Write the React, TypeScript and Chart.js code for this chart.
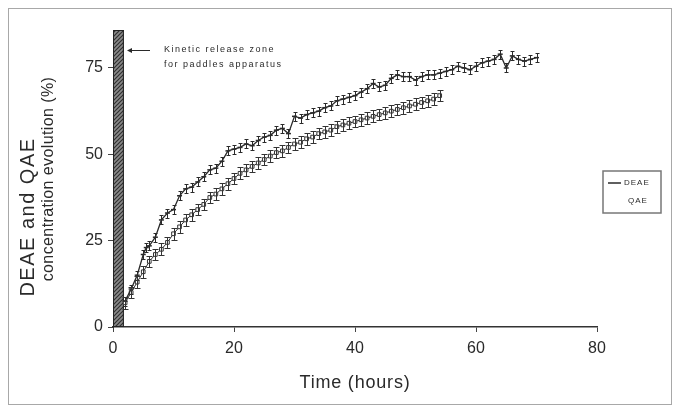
import { useEffect, useRef } from "react";
import { Chart, registerables } from "chart.js";

Chart.register(...registerables);

// ---- data ----
const DEAE_TIME = [2, 3, 4, 5, 5.5, 6, 7, 8, 9, 10, 11, 12, 13, 14, 15, 16, 17, 18, 19, 20, 21, 22, 23, 24, 25, 26, 27, 28, 29, 30, 31, 32, 33, 34, 35, 36, 37, 38, 39, 40, 41, 42, 43, 44, 45, 46, 47, 48, 49, 50, 51, 52, 53, 54, 55, 56, 57, 58, 59, 60, 61, 62, 63, 64, 65, 66, 67, 68, 69, 70];
const DEAE_VALUE = [7.5, 11, 15, 21, 23, 23.5, 26, 31, 33, 34, 38, 40, 40.5, 42, 43.5, 45.5, 46, 48, 51, 51.5, 52, 53, 52.5, 54, 55, 55.5, 57, 57.5, 56, 61, 60.5, 61.5, 62, 62.5, 63.5, 64, 65.5, 66, 66.5, 67, 68, 69, 70.5, 69.5, 70, 72, 73, 72.5, 72.5, 71.5, 72.5, 73, 73, 73.5, 74, 74.5, 75.5, 75, 74.5, 75.5, 76.5, 77, 77.5, 79, 75, 78.5, 77.5, 77, 77.5, 78];
const QAE_TIME = [2, 3, 4, 5, 6, 7, 8, 9, 10, 11, 12, 13, 14, 15, 16, 17, 18, 19, 20, 21, 22, 23, 24, 25, 26, 27, 28, 29, 30, 31, 32, 33, 34, 35, 36, 37, 38, 39, 40, 41, 42, 43, 44, 45, 46, 47, 48, 49, 50, 51, 52, 53, 54];
const QAE_VALUE = [7, 10, 13, 16, 19, 21, 22.5, 24.5, 27, 29, 31, 32.5, 34, 35.5, 37.5, 38.5, 40, 41.5, 43, 44.5, 45.5, 46.5, 47.5, 48.5, 49.5, 50.5, 51, 52, 53, 53.5, 54.5, 55, 56, 56.5, 57, 58, 58.5, 59, 59.5, 60, 60.5, 61, 61.5, 62, 62.5, 63, 63.5, 64, 64.5, 65, 65.5, 66, 67];
const DEAE_ERR = 1.3;
const QAE_ERR = 1.7;
const X_TICKS = [0, 20, 40, 60, 80];
const Y_TICKS = [0, 25, 50, 75];
const X_RANGE = [0, 80];
const Y_RANGE = [0, 86];
const ZONE_END = 1.8; // hours, kinetic release zone
const ZONE_TOP = 86;
const X_TITLE = "Time (hours)";
const Y_TITLE = ["DEAE and QAE", "concentration evolution (%)"];
const NOTE = ["Kinetic release zone", "for paddles apparatus"];
const SERIES_NAMES = ["DEAE", "QAE"];

const W = 662;
const H = 395;
const FONT = "'Liberation Sans', Arial, sans-serif";
const INK = "#2a2a2a";

function makeHatch(ctx: CanvasRenderingContext2D) {
  const c = document.createElement("canvas");
  c.width = 4;
  c.height = 4;
  const p = c.getContext("2d")!;
  p.fillStyle = "#8a8a8a";
  p.fillRect(0, 0, 4, 4);
  p.strokeStyle = "#303030";
  p.lineWidth = 1.2;
  p.beginPath();
  p.moveTo(0, 4);
  p.lineTo(4, 0);
  p.moveTo(-1, 1);
  p.lineTo(1, -1);
  p.moveTo(3, 5);
  p.lineTo(5, 3);
  p.stroke();
  return ctx.createPattern(c, "repeat")!;
}

const ERRS = [DEAE_ERR, QAE_ERR];
const CAPS = [2, 3];

const decorPlugin = {
  id: "decor",
  beforeDatasetsDraw(chart: any) {
    const { ctx, scales } = chart;
    const x0 = scales.x.getPixelForValue(0);
    const x1 = scales.x.getPixelForValue(ZONE_END);
    const y0 = scales.y.getPixelForValue(0);
    const y1 = scales.y.getPixelForValue(ZONE_TOP);
    ctx.save();
    ctx.fillStyle = makeHatch(ctx);
    ctx.fillRect(x0, y1, x1 - x0, y0 - y1);
    ctx.strokeStyle = "#222";
    ctx.lineWidth = 1;
    ctx.strokeRect(x0 + 0.5, y1 + 0.5, x1 - x0 - 1, y0 - y1 - 1);
    ctx.restore();
  },
  afterDatasetsDraw(chart: any) {
    const { ctx, scales } = chart;
    ctx.save();
    chart.data.datasets.forEach((ds: any, di: number) => {
      ctx.strokeStyle = di === 0 ? INK : "#333";
      ctx.lineWidth = 1;
      const e = ERRS[di];
      const cap = CAPS[di];
      ds.data.forEach((pt: any) => {
        const x = Math.round(scales.x.getPixelForValue(pt.x)) + 0.5;
        const yt = Math.round(scales.y.getPixelForValue(pt.y + e)) + 0.5;
        const yb = Math.round(scales.y.getPixelForValue(pt.y - e)) + 0.5;
        ctx.beginPath();
        ctx.moveTo(x, yt);
        ctx.lineTo(x, yb);
        ctx.moveTo(x - cap, yt);
        ctx.lineTo(x + cap, yt);
        ctx.moveTo(x - cap, yb);
        ctx.lineTo(x + cap, yb);
        ctx.stroke();
      });
    });
    ctx.restore();
  },
  afterDraw(chart: any) {
    const { ctx, chartArea } = chart;
    ctx.save();
    ctx.fillStyle = INK;
    ctx.textBaseline = "middle";
    // x title
    ctx.textAlign = "center";
    ctx.font = `18px ${FONT}`;
    (ctx as any).letterSpacing = "0.8px";
    ctx.fillText(X_TITLE, (chartArea.left + chartArea.right) / 2, 374);
    // y title
    ctx.save();
    ctx.translate(19, 208);
    ctx.rotate(-Math.PI / 2);
    ctx.font = `20px ${FONT}`;
    (ctx as any).letterSpacing = "1.5px";
    ctx.fillText(Y_TITLE[0], 0, 0);
    ctx.restore();
    ctx.save();
    ctx.translate(40, 170);
    ctx.rotate(-Math.PI / 2);
    ctx.font = `16px ${FONT}`;
    (ctx as any).letterSpacing = "0.4px";
    ctx.fillText(Y_TITLE[1], 0, 0);
    ctx.restore();

    // note with arrow
    ctx.strokeStyle = INK;
    ctx.lineWidth = 1;
    ctx.beginPath();
    ctx.moveTo(119, 41.5);
    ctx.lineTo(141, 41.5);
    ctx.stroke();
    ctx.beginPath();
    ctx.moveTo(118, 41.5);
    ctx.lineTo(123, 39);
    ctx.lineTo(123, 44);
    ctx.closePath();
    ctx.fill();
    ctx.textAlign = "left";
    ctx.font = `9px ${FONT}`;
    (ctx as any).letterSpacing = "1.5px";
    ctx.fillText(NOTE[0], 155, 41);
    ctx.fillText(NOTE[1], 155, 56);

    // legend
    (ctx as any).letterSpacing = "1px";
    const lx = 594, ly = 162, lw = 58, lh = 42;
    ctx.fillStyle = "#fff";
    ctx.fillRect(lx, ly, lw, lh);
    ctx.strokeStyle = "#777";
    ctx.lineWidth = 1.5;
    ctx.strokeRect(lx, ly, lw, lh);
    ctx.strokeStyle = INK;
    ctx.lineWidth = 1.5;
    ctx.beginPath();
    ctx.moveTo(lx + 5, ly + 12);
    ctx.lineTo(lx + 18, ly + 12);
    ctx.stroke();
    ctx.fillStyle = INK;
    ctx.font = `8px ${FONT}`;
    ctx.fillText(SERIES_NAMES[0], lx + 21, ly + 12);
    ctx.fillText(SERIES_NAMES[1], lx + 25, ly + 30);
    ctx.restore();
  },
};

export default function App() {
  const ref = useRef<HTMLCanvasElement | null>(null);
  useEffect(() => {
    if (!ref.current) return;
    const chart = new Chart(ref.current, {
      type: "line",
      data: {
        datasets: [
          {
            label: SERIES_NAMES[0],
            data: DEAE_TIME.map((t, i) => ({ x: t, y: DEAE_VALUE[i] })),
            borderColor: INK,
            backgroundColor: INK,
            borderWidth: 1.3,
            pointStyle: "line",
            rotation: 0,
            pointRadius: 2.5,
            pointBorderWidth: 1.5,
            tension: 0,
          },
          {
            label: SERIES_NAMES[1],
            data: QAE_TIME.map((t, i) => ({ x: t, y: QAE_VALUE[i] })),
            borderColor: "#333",
            backgroundColor: "#fff",
            borderWidth: 1,
            pointStyle: "rect",
            pointRadius: 2.6,
            pointBorderWidth: 1,
            tension: 0,
          },
        ],
      },
      options: {
        animation: false,
        responsive: false,
        events: [],
        layout: { padding: { left: 0, right: 74, top: 21, bottom: 0 } },
        plugins: { legend: { display: false }, tooltip: { enabled: false } },
        scales: {
          x: {
            type: "linear",
            min: X_RANGE[0],
            max: X_RANGE[1],
            afterBuildTicks: (s: any) => {
              s.ticks = X_TICKS.map((v) => ({ value: v }));
            },
            afterFit: (s: any) => {
              s.height = 77;
            },
            grid: { drawOnChartArea: false, drawTicks: true, tickLength: 5, color: "#444" },
            border: { color: "#333", width: 1.5 },
            ticks: { color: INK, font: { size: 16, family: FONT }, padding: 7, maxRotation: 0 },
          },
          y: {
            type: "linear",
            min: Y_RANGE[0],
            max: Y_RANGE[1],
            afterBuildTicks: (s: any) => {
              s.ticks = Y_TICKS.map((v) => ({ value: v }));
            },
            afterFit: (s: any) => {
              s.width = 104;
            },
            grid: { drawOnChartArea: false, drawTicks: true, tickLength: 5, color: "#444" },
            border: { color: "#333", width: 1 },
            ticks: { color: INK, font: { size: 16, family: FONT }, padding: 5 },
          },
        },
      },
      plugins: [decorPlugin],
    });
    return () => chart.destroy();
  }, []);
  return (
    <div
      style={{
        position: "relative",
        width: 664,
        height: 397,
        border: "1px solid #a8a8a8",
        boxSizing: "border-box",
        background: "#fff",
      }}
    >
      <canvas ref={ref} width={W} height={H} style={{ display: "block", width: W, height: H }} />
    </div>
  );
}
